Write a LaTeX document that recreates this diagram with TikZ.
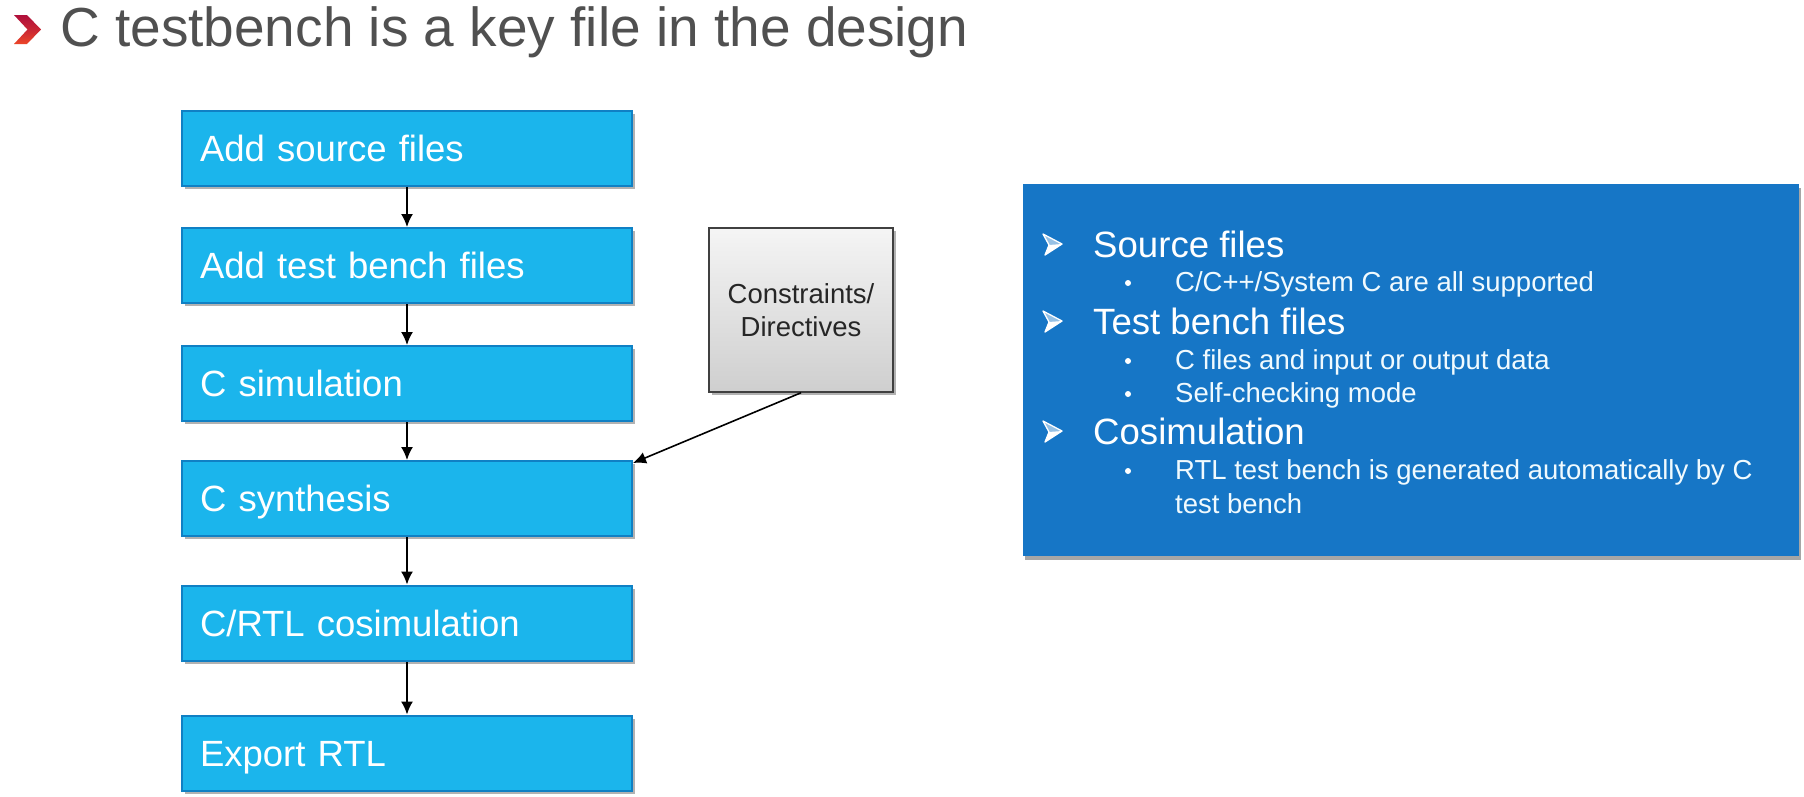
\documentclass[tikz,border=0pt]{standalone}
\usepackage{fontspec}
\setmainfont{Liberation Sans}
\usetikzlibrary{shadows,calc,arrows.meta}
\definecolor{stepfill}{RGB}{27,181,236}
\definecolor{stepline}{RGB}{16,128,196}
\definecolor{panelblue}{RGB}{22,118,198}
\definecolor{titlegray}{RGB}{80,80,80}
\definecolor{chevtop}{RGB}{176,16,60}
\definecolor{chevbot}{RGB}{236,70,40}
\begin{document}
\begin{tikzpicture}[x=1pt,y=-1pt,
  stepbox/.style={draw=stepline, line width=2pt, fill=stepfill,
    minimum width=450pt, minimum height=75pt, text width=414pt,
    inner xsep=18pt, inner ysep=0pt, align=left, text=white,
    font=\fontsize{36.5}{44}\selectfont, text height=26pt, text depth=0pt,
    drop shadow={shadow xshift=3pt, shadow yshift=-3pt, opacity=0.3, fill=black}},
  flow/.style={-{Latex[length=13pt,width=12pt]}, line width=1.6pt, black},
  headtxt/.style={anchor=base west, inner sep=0pt, text=white,
    font=\fontsize{36.6}{44}\selectfont},
  subtxt/.style={anchor=base west, inner sep=0pt, text=white!94!cyan,
    font=\fontsize{27.5}{33}\selectfont},
  dotbul/.style={circle, fill=white, inner sep=0pt, minimum size=6pt},
  arrowbul/.pic={
    \draw[white, fill=white!55!panelblue, line width=1.3pt, line join=round]
      (-9,-10) -- (10,0) -- (-7,11) -- (-3,1) -- cycle;
    \fill[white] (-3,1) -- (10,0) -- (-7,11) -- cycle;
  }
]
% canvas
\useasboundingbox[fill=white] (0,0) rectangle (1804,796);

% heading with its red chevron
\shade[top color=chevtop, bottom color=chevbot, middle color=chevtop!60!chevbot]
  (14,15) -- (27,15) -- (41,29.5) -- (27,44) -- (14,44) -- (27.5,29.5) -- cycle;
\node[anchor=base west, inner sep=0pt, text=titlegray,
  font=\fontsize{55}{60}\selectfont] (title) at (60,46)
  {C testbench is a key file in the design};

% design flow
\node[stepbox] (b1) at (407,148)   {Add source files};
\node[stepbox] (b2) at (407,265.5) {Add test bench files};
\node[stepbox] (b3) at (407,383.5) {C simulation};
\node[stepbox] (b4) at (407,498.5) {C synthesis};
\node[stepbox] (b5) at (407,623)   {C/RTL cosimulation};
\node[stepbox] (b6) at (407,753)   {Export RTL};

\draw[flow] (b1) -- (b2);
\draw[flow] (b2) -- (b3);
\draw[flow] (b3) -- (b4);
\draw[flow] (b4) -- (b5);
\draw[flow] (b5) -- (b6);

% constraints feeding synthesis
\node[draw=black!75, line width=1.5pt, top color=gray!8, bottom color=gray!38,
  minimum width=184pt, minimum height=164pt, align=center, text=black!85,
  font=\fontsize{27.5}{33}\selectfont,
  drop shadow={shadow xshift=3pt, shadow yshift=-3pt, opacity=0.3, fill=black}]
  (cons) at (801,310) {Constraints/\\Directives};
\draw[flow] (cons.south) -- ($(b4.north east)+(0,3)$);

% notes panel
\node[fill=panelblue, minimum width=776pt, minimum height=372pt, inner sep=0pt,
  drop shadow={shadow xshift=2pt, shadow yshift=-4pt, opacity=0.35, fill=black}]
  (panel) at (1411,370) {};

\pic at (1052,244) {arrowbul};
\node[headtxt] (h1) at (1093,257) {Source files};
\node[dotbul]  (d1) at (1128,283) {};
\node[subtxt]  (s1) at (1175,291) {C/C++/System C are all supported};

\pic at (1052,321) {arrowbul};
\node[headtxt] (h2) at (1093,334) {Test bench files};
\node[dotbul]  (d2) at (1128,361) {};
\node[subtxt]  (s2) at (1175,369) {C files and input or output data};
\node[dotbul]  (d3) at (1128,394) {};
\node[subtxt]  (s3) at (1175,402) {Self-checking mode};

\pic at (1052,431) {arrowbul};
\node[headtxt] (h3) at (1093,444) {Cosimulation};
\node[dotbul]  (d4) at (1128,471) {};
\node[subtxt]  (s4) at (1175,479) {RTL test bench is generated automatically by C};
\node[subtxt]  (s5) at (1175,513) {test bench};
\end{tikzpicture}
\end{document}
